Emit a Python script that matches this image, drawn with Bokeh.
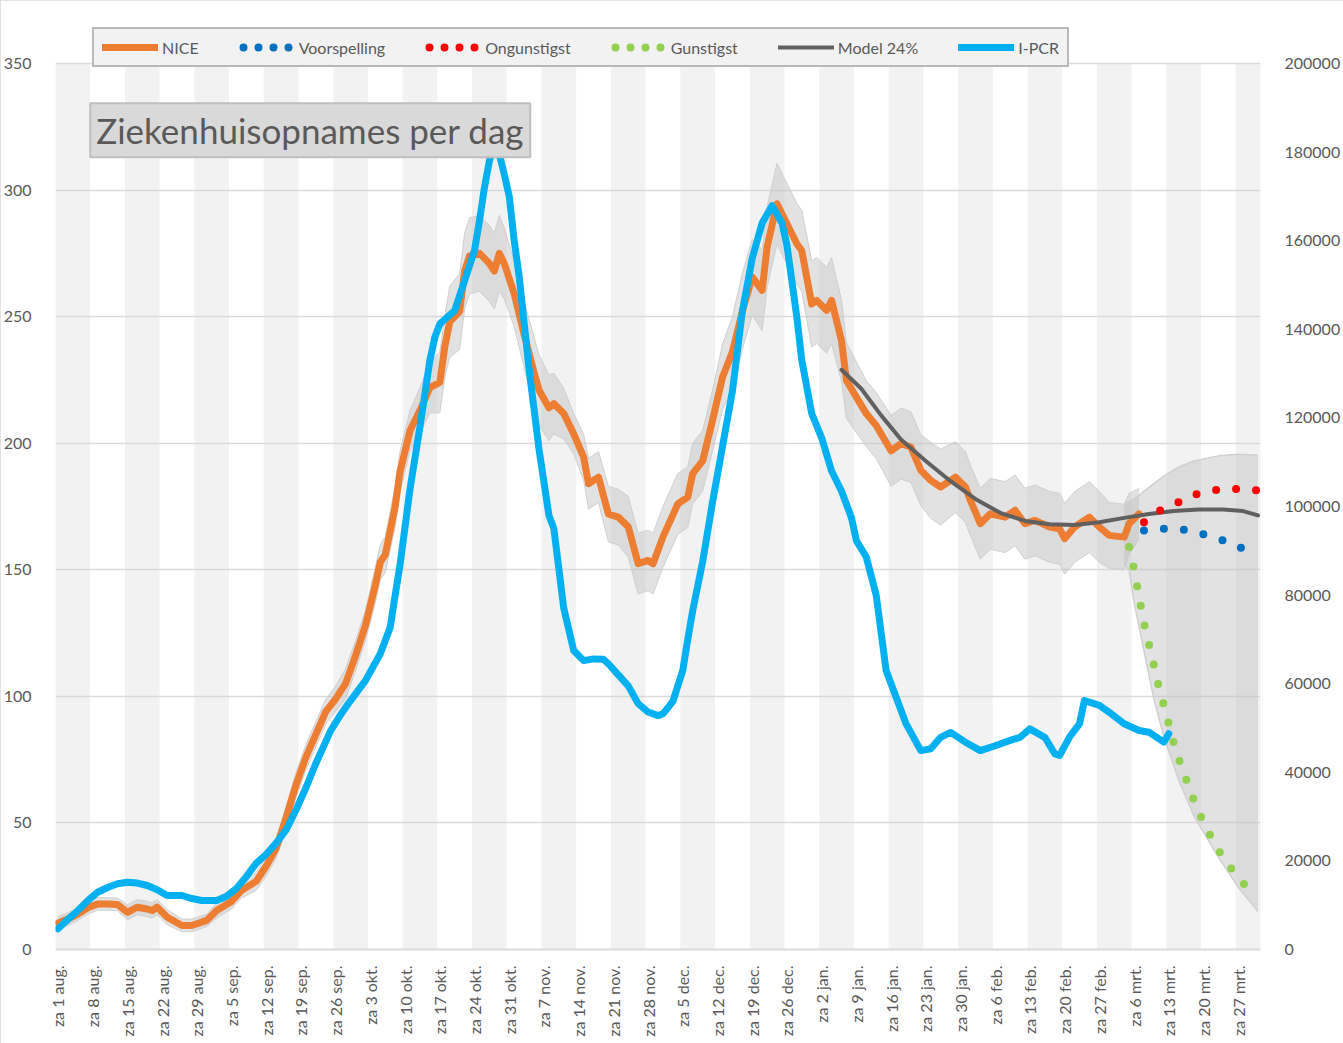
import math
from bokeh.plotting import figure
from bokeh.models import (Range1d, LinearAxis, FixedTicker,
                          Legend, LegendItem, Label, ColumnDataSource,
                          BasicTickFormatter)
from bokeh.embed import file_html
from bokeh.resources import INLINE

# Day index 0 = zaterdag 1 augustus 2020; the axis runs through 31 maart 2021.
N_DAYS = 243
WEEK_LABELS = [
    "za 1 aug.", "za 8 aug.", "za 15 aug.", "za 22 aug.", "za 29 aug.",
    "za 5 sep.", "za 12 sep.", "za 19 sep.", "za 26 sep.",
    "za 3 okt.", "za 10 okt.", "za 17 okt.", "za 24 okt.", "za 31 okt.",
    "za 7 nov.", "za 14 nov.", "za 21 nov.", "za 28 nov.",
    "za 5 dec.", "za 12 dec.", "za 19 dec.", "za 26 dec.",
    "za 2 jan.", "za 9 jan.", "za 16 jan.", "za 23 jan.", "za 30 jan.",
    "za 6 feb.", "za 13 feb.", "za 20 feb.", "za 27 feb.",
    "za 6 mrt.", "za 13 mrt.", "za 20 mrt.", "za 27 mrt.",
]
Y_MAX = 350          # left axis: opnames per dag
PCR_MAX = 200000     # right axis: I-PCR

# NICE: ziekenhuisopnames per dag (linker as) met onzekerheidsmarge
NICE_DAG = [0, 2, 4, 6, 8, 10, 12, 14, 16, 18, 19, 20, 22, 25, 27, 30, 32, 35, 37, 40,
            42, 44, 46, 48, 50, 52, 54, 56, 58, 60, 62, 64, 65, 66, 68, 69, 71, 73, 75, 77,
            78, 79, 81, 82, 83, 85, 86, 87, 88, 89, 90, 92, 94, 96, 97, 99, 100, 102, 104, 106,
            107, 109, 111, 113, 115, 117, 119, 120, 122, 125, 127, 128, 130, 132, 134, 136, 138, 140, 142, 143,
            145, 147, 149, 150, 152, 153, 155, 156, 158, 159, 161, 163, 165, 168, 170, 172, 174, 176, 178, 181,
            183, 184, 186, 188, 191, 193, 195, 197, 200, 202, 203, 205, 208, 210, 212, 215, 216, 218]
NICE = [10.5, 12, 14, 16.5, 18, 18, 17.8, 14.7, 16.7, 16, 15.4, 16.7, 12.8, 9.5, 9.5, 11.5, 15.4, 19, 23.3, 27,
        33, 40, 52, 65, 76, 85, 94, 99, 105, 116, 128, 144, 153, 156, 175, 189, 205, 213, 222, 224,
        238, 248, 252, 268, 274, 275, 273, 271, 268, 275, 271, 259, 243, 228, 221, 214, 215.6, 211.7, 203.7, 194.5,
        184, 186.6, 172, 170.8, 167, 152.4, 153.7, 152.4, 163, 176, 178.7, 188, 193, 209, 226, 236, 252, 265.6, 260.4, 277.5,
        294.6, 286.7, 278.8, 276, 255, 256.4, 252.5, 256.4, 240.6, 224.8, 218.2, 211.7, 207, 197, 199.8, 198.5, 189.3, 185.3, 182.7, 186.6,
        182.7, 177.4, 168.2, 172.1, 170.8, 173.5, 168.2, 169.5, 166.9, 166.2, 162.3, 166.9, 170.8, 166.9, 163.6, 162.9, 168.2, 172.1]
NICE_MARGE = [2.5, 2.5, 2.5, 2.5, 2.5, 2.5, 2.5, 3, 3, 3, 3, 3, 3, 2.5, 2.5, 2.5, 3, 3, 3, 3.5,
              4, 4, 4.5, 5, 5, 5, 5, 5, 6, 6, 6, 7, 7, 7, 8, 8, 8, 9, 10, 12,
              12, 14, 15, 15, 15, 15, 15, 15, 15, 15, 14, 13, 13, 14, 14, 13, 12, 10, 8, 9,
              10, 10, 11, 11, 12, 12, 12, 12, 12, 12, 12, 12, 12, 12, 13, 14, 15, 15, 16, 16,
              16, 16, 16, 16, 17, 17, 17, 17, 16, 15, 14, 13, 13, 14, 14, 14, 14, 15, 15, 14,
              14, 14, 14, 14, 14, 14, 14, 14, 14, 14, 14, 14, 14, 14, 13, 13, 12, 10]

# I-PCR (rechter as)
PCR_DAG = [0, 2, 4, 6, 8, 10, 12, 14, 16, 18, 20, 22, 25, 27, 29, 32, 34, 36, 38, 40,
           42, 44, 46, 48, 50, 52, 55, 57, 59, 62, 65, 67, 68, 69, 71, 73, 75, 76, 77, 80,
           82, 84, 85, 86, 87, 88, 89, 90, 91, 92, 93, 95, 97, 99, 100, 102, 104, 106, 108, 110,
           111, 113, 115, 117, 119, 121, 122, 124, 126, 127, 128, 130, 132, 134, 136, 138, 140, 142, 144, 146,
           147, 149, 150, 152, 154, 156, 158, 160, 161, 163, 165, 167, 169, 171, 174, 176, 178, 180, 183, 186,
           189, 192, 194, 196, 198, 199, 201, 202, 204, 206, 207, 210, 212, 215, 218, 220, 223, 224]
PCR = [4670, 6800, 8800, 11000, 12930, 14000, 14830, 15190, 15000, 14450, 13500, 12190, 12190, 11500, 11060, 11060, 12000, 13800, 16500, 19500,
       21500, 24000, 27000, 31500, 36500, 42000, 49400, 53000, 56200, 60700, 66750, 72750, 80000, 87000, 104000, 118000, 133000, 138200, 141200, 144200,
       151000, 157800, 164500, 172000, 178000, 182000, 179500, 175000, 170000, 160000, 152000, 131000, 113000, 98000, 95000, 77000, 67500, 65200, 65600, 65500,
       64500, 62000, 59500, 55500, 53600, 52800, 53200, 56000, 63000, 70000, 76500, 87500, 101000, 113500, 126000, 144000, 156000, 164000, 167900, 164000,
       159000, 142700, 133000, 121000, 115500, 108000, 103500, 97500, 92300, 88600, 80000, 63000, 57000, 51000, 44900, 45300, 47900, 49000, 46800, 44900,
       46000, 47200, 47900, 49800, 48500, 47900, 44200, 43800, 48000, 50950, 56200, 55100, 53550, 50950, 49430, 49050, 46800, 48700]

# Modelcurve bij 24%
MODEL_DAG = [158, 162, 166, 170, 175, 180, 185, 190, 195, 200, 205, 210, 215, 220, 225, 230, 235, 239, 242]
MODEL = [229, 221.5, 211, 201.5, 193, 185, 178, 172.5, 169.3, 168, 167.7, 168.8, 170.5, 172, 173.2, 173.8, 173.8, 173.2, 171.5]

# Prognoses
VOORSP_DAG = [219, 223, 227, 231, 235, 239, 242]
VOORSP = [165.5, 166.2, 165.8, 164, 161.6, 158.3, 154.6]
ONGUNST_DAG = [219, 222, 226, 229, 233, 237, 242]
ONGUNST = [168.8, 173.2, 176.7, 179.6, 181.4, 182, 181.4]
GUNST_DAG = list(range(216, 241))
GUNST = [159, 150.2, 139.4, 129, 120.6, 112.2, 103.7, 96.5, 89.1, 81.5, 75.4, 70, 64.4,
         59.3, 54.8, 50, 46.4, 42.8, 39.4, 36, 33.5, 30.9, 28.6, 26.2, 24]

# Onzekerheidskegel rond de prognoses
KEGEL_DAG = [215, 216, 217, 219, 221, 223, 226, 229, 234, 238, 242]
KEGEL_BOVEN = [176, 177, 178, 181, 184, 187, 190.6, 193, 195, 195.6, 195.2]
KEGEL_ONDER = [152, 150, 137, 118, 99, 84, 67, 53, 36.5, 24.6, 15]

FONT = "Lato"
TEXT = "#595959"

# The frame reaches above the 350 line so the legend strip fits inside it.
TOP_PX, BOTTOM_PX, AXIS_TOP_PX = 10, 949, 63
px_per_unit = (BOTTOM_PX - AXIS_TOP_PX) / Y_MAX
y_top = (BOTTOM_PX - TOP_PX) / px_per_unit

p = figure(width=1343, height=1043, output_backend="svg", toolbar_location=None,
           x_range=Range1d(-0.5, N_DAYS - 0.5), y_range=Range1d(0, y_top),
           min_border_left=53, min_border_right=81, min_border_top=TOP_PX,
           min_border_bottom=1043 - BOTTOM_PX)
p.outline_line_color = None
p.background_fill_color = "white"
p.border_fill_color = "white"
p.styles = {"outline": "2px solid #d9d9d9", "outline-offset": "-2px"}

# alternating weekly shading
week_starts = [w - 0.5 for w in range(0, N_DAYS, 14)]
p.quad(left=week_starts, right=[s + 7 for s in week_starts], bottom=0, top=Y_MAX,
       fill_color="#f2f2f2", line_color=None, level="image")

# axes
p.xgrid.grid_line_color = None
p.ygrid.grid_line_color = "#d9d9d9"
p.ygrid.grid_line_width = 1.5
p.ygrid.ticker = FixedTicker(ticks=list(range(50, Y_MAX + 1, 50)))

xa = p.xaxis[0]
xa.ticker = FixedTicker(ticks=list(range(0, N_DAYS, 7)))
xa.major_label_overrides = {i * 7: lab for i, lab in enumerate(WEEK_LABELS)}
xa.major_label_orientation = math.pi / 2
xa.axis_line_color = "#d9d9d9"
xa.axis_line_width = 2
xa.major_tick_line_color = None
xa.minor_tick_line_color = None
xa.major_label_text_font = FONT
xa.major_label_text_font_size = "16px"
xa.major_label_text_color = TEXT
xa.major_label_standoff = 10

ya = p.yaxis[0]
ya.ticker = FixedTicker(ticks=list(range(0, Y_MAX + 1, 50)))
ya.axis_line_color = None
ya.major_tick_line_color = None
ya.minor_tick_line_color = None
ya.major_label_text_font = FONT
ya.major_label_text_font_size = "16px"
ya.major_label_text_color = TEXT
ya.major_label_standoff = 18

p.extra_y_ranges = {"pcr": Range1d(0, y_top / Y_MAX * PCR_MAX)}
ra = LinearAxis(y_range_name="pcr",
                ticker=FixedTicker(ticks=list(range(0, PCR_MAX + 1, 20000))),
                formatter=BasicTickFormatter(use_scientific=False))
ra.axis_line_color = None
ra.major_tick_line_color = None
ra.minor_tick_line_color = None
ra.major_label_text_font = FONT
ra.major_label_text_font_size = "16px"
ra.major_label_text_color = TEXT
ra.major_label_standoff = 18
p.add_layout(ra, "right")

# uncertainty band around NICE
band = ColumnDataSource(dict(
    x=NICE_DAG,
    lo=[v - m for v, m in zip(NICE, NICE_MARGE)],
    hi=[v + m for v, m in zip(NICE, NICE_MARGE)],
))
p.varea(x="x", y1="lo", y2="hi", source=band, fill_color="#bfbfbf", fill_alpha=0.45)
p.line(x="x", y="lo", source=band, line_color="#d0d0d0", line_width=1)
p.line(x="x", y="hi", source=band, line_color="#d0d0d0", line_width=1)

# forecast cone
p.varea(x=KEGEL_DAG, y1=KEGEL_ONDER, y2=KEGEL_BOVEN, fill_color="#bfbfbf", fill_alpha=0.45)
p.line(KEGEL_DAG, KEGEL_ONDER, line_color="#d0d0d0", line_width=1.5)
p.line(KEGEL_DAG, KEGEL_BOVEN, line_color="#d0d0d0", line_width=1.5)

r_nice = p.line(NICE_DAG, NICE, line_color="#ed7d31", line_width=7, line_join="round", line_cap="round")
r_model = p.line(MODEL_DAG, MODEL, line_color="#606060", line_width=4, line_join="round", line_cap="round")

dots = dict(line_width=8, line_dash="0 20", line_cap="round", line_join="round")
r_voor = p.line(VOORSP_DAG, VOORSP, line_color="#0070c0", **dots)
r_ong = p.line(ONGUNST_DAG, ONGUNST, line_color="#ff0000", **dots)
r_gun = p.line(GUNST_DAG, GUNST, line_color="#92d050", **dots)

r_pcr = p.line(PCR_DAG, PCR, y_range_name="pcr", line_color="#00b0f0", line_width=7,
               line_join="round", line_cap="round")

# legend swatches for the dotted series: same colours, tighter dot pitch
nan = float("nan")
key = dict(line_width=8, line_dash="0 15", line_dash_offset=11, line_cap="round")
k_voor = p.line([nan], [nan], line_color="#0070c0", **key)
k_ong = p.line([nan], [nan], line_color="#ff0000", **key)
k_gun = p.line([nan], [nan], line_color="#92d050", **key)

legend = Legend(items=[
    LegendItem(label="NICE", renderers=[r_nice]),
    LegendItem(label="Voorspelling", renderers=[k_voor]),
    LegendItem(label="Ongunstigst", renderers=[k_ong]),
    LegendItem(label="Gunstigst", renderers=[k_gun]),
    LegendItem(label="Model 24%", renderers=[r_model]),
    LegendItem(label="I-PCR", renderers=[r_pcr]),
], orientation="horizontal", location=(37, BOTTOM_PX - 57 - TOP_PX))
legend.margin = 0
legend.padding = 8
legend.spacing = 40
legend.glyph_width = 56
legend.glyph_height = 20
legend.label_height = 20
legend.label_standoff = 4
legend.label_text_font = FONT
legend.label_text_font_size = "16px"
legend.label_text_color = TEXT
legend.background_fill_color = "#f2f2f2"
legend.background_fill_alpha = 1
legend.border_line_color = "#7f7f7f"
legend.border_line_width = 2
p.add_layout(legend)

title = Label(x=6.5, y=313, text="Ziekenhuisopnames per dag", text_font=FONT,
              text_font_size="35px", text_color=TEXT,
              background_fill_color="#d9d9d9", border_line_color="#bfbfbf",
              border_line_width=2, padding=6)
p.add_layout(title)

open("out.html", "w").write(file_html(p, INLINE))
